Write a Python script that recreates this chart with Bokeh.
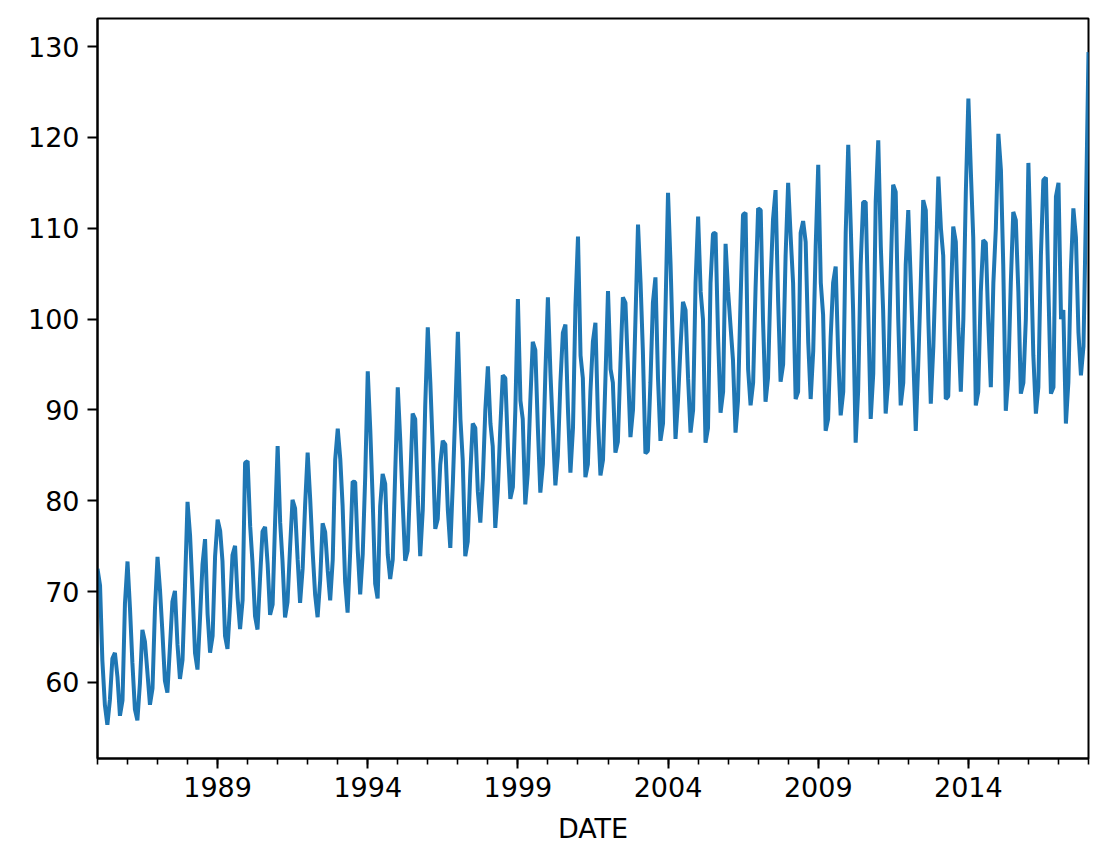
import pandas as pd
from bokeh.plotting import figure
from bokeh.models import Range1d, FixedTicker, DatetimeTickFormatter, ColumnDataSource
from bokeh.embed import file_html
from bokeh.resources import INLINE

# Monthly series, 1985-01 .. 2018-01
start_month = "1985-01-01"
values = [
    # 1985
    72.51, 70.67, 62.45, 57.47, 55.32, 58.09, 62.62, 63.25, 60.58, 56.32, 58.00, 68.71,
    # 1986
    73.31, 67.99, 62.22, 57.03, 55.81, 59.90, 65.77, 64.48, 61.00, 57.53, 59.34, 68.14,
    # 1987
    73.82, 70.06, 65.61, 60.16, 58.87, 63.89, 68.87, 70.07, 64.12, 60.38, 62.46, 70.58,
    # 1988
    79.87, 76.16, 70.29, 63.24, 61.41, 67.11, 72.98, 75.77, 67.52, 63.28, 65.11, 73.86,
    # 1989
    77.92, 76.68, 73.35, 65.11, 63.69, 68.47, 74.03, 75.04, 69.31, 65.87, 69.07, 84.19,
    # 1990
    84.36, 77.17, 73.20, 67.28, 65.82, 71.47, 76.61, 77.11, 73.06, 67.44, 68.57, 77.68,
    # 1991
    86.02, 77.56, 73.37, 67.15, 68.82, 74.84, 80.09, 79.16, 73.57, 68.75, 72.52, 79.49,
    # 1992
    85.29, 80.16, 74.53, 69.64, 67.18, 71.21, 77.51, 76.54, 72.35, 69.03, 73.50, 84.52,
    # 1993
    87.95, 84.56, 79.47, 71.06, 67.68, 74.33, 82.10, 82.06, 74.60, 69.68, 74.16, 82.62,
    # 1994
    94.25, 87.72, 80.38, 70.88, 69.25, 79.40, 82.95, 81.88, 74.08, 71.39, 73.53, 83.14,
    # 1995
    92.5, 86.5, 80.0, 73.4, 74.5, 82.0, 89.6, 89.0, 80.5, 73.9, 79.0, 90.5,
    # 1996
    99.1, 93.0, 86.0, 76.9, 78.0, 84.0, 86.6, 86.2, 79.0, 74.8, 82.0, 90.0,
    # 1997
    98.6, 89.0, 84.5, 73.9, 75.5, 83.0, 88.5, 88.0, 81.0, 77.6, 82.5, 90.0,
    # 1998
    94.8, 88.5, 86.0, 77.0, 81.0, 88.0, 93.8, 93.5, 86.0, 80.2, 81.5, 90.0,
    # 1999
    102.2, 91.0, 89.0, 79.6, 83.0, 91.0, 97.5, 96.6, 88.0, 80.9, 84.0, 94.0,
    # 2000
    102.4, 94.0, 88.0, 81.7, 85.0, 93.0, 98.5, 99.4, 90.0, 83.1, 88.0, 101.5,
    # 2001
    109.1, 96.0, 93.5, 82.6, 84.0, 92.0, 97.5, 99.6, 89.0, 82.8, 84.5, 93.5,
    # 2002
    103.1, 94.5, 93.0, 85.3, 86.5, 95.0, 102.4, 101.8, 94.5, 87.0, 90.0, 100.0,
    # 2003
    110.4, 104.0, 96.5, 85.2, 85.5, 93.0, 101.8, 104.6, 93.5, 86.6, 88.5, 101.0,
    # 2004
    113.9, 106.0, 96.5, 86.8, 91.0, 97.0, 101.9, 101.0, 93.5, 87.5, 90.0, 104.0,
    # 2005
    111.3, 103.0, 100.0, 86.4, 88.0, 104.0, 109.4, 109.5, 98.0, 89.7, 92.0, 108.3,
    # 2006
    103.0, 99.0, 95.5, 87.5, 91.0, 102.0, 111.5, 111.7, 94.5, 90.5, 93.0, 103.5,
    # 2007
    112.2, 112.0, 100.0, 90.9, 93.5, 104.0, 111.0, 114.2, 102.0, 93.1, 95.0, 107.0,
    # 2008
    115.0, 109.0, 104.0, 91.2, 92.0, 109.5, 110.8, 108.5, 97.5, 91.2, 96.5, 108.0,
    # 2009
    117.0, 104.0, 100.5, 87.7, 89.0, 98.0, 104.0, 105.8, 96.0, 89.4, 92.0, 109.5,
    # 2010
    119.2, 110.0, 101.0, 86.4, 92.0, 106.0, 112.9, 112.9, 101.0, 89.0, 94.0, 113.0,
    # 2011
    119.7, 108.0, 101.0, 89.6, 93.0, 105.0, 114.8, 114.0, 100.0, 90.5, 93.0, 106.0,
    # 2012
    112.0, 104.0, 96.0, 87.7, 95.0, 104.0, 113.1, 112.0, 100.0, 90.7, 97.0, 106.0,
    # 2013
    115.7, 110.0, 107.0, 91.2, 91.5, 102.0, 110.2, 108.5, 99.0, 92.0, 100.0, 114.0,
    # 2014
    124.3, 116.0, 109.0, 90.5, 92.0, 103.0, 108.7, 108.4, 99.5, 92.5, 104.0, 110.0,
    # 2015
    120.4, 116.4, 106.0, 89.9, 93.5, 104.0, 111.8, 110.9, 103.0, 91.8, 93.0, 100.0,
    # 2016
    117.2, 107.0, 96.0, 89.6, 92.5, 107.0, 115.3, 115.6, 103.0, 91.8, 92.5, 113.5,
    # 2017
    115.0, 100.0, 101.0, 88.5, 93.0, 105.5, 112.2, 109.0, 98.5, 93.8, 97.0, 112.0,
    # 2018
    129.4,
]

major_years = [1989, 1994, 1999, 2004, 2009, 2014]
minor_years = list(range(1985, 2019))
y_ticks = [60, 70, 80, 90, 100, 110, 120, 130]
x_label = "DATE"

dates = pd.date_range(start=start_month, periods=len(values), freq="MS")
source = ColumnDataSource(data=dict(date=dates, value=values))

ymin, ymax = min(values), max(values)
pad = 0.05 * (ymax - ymin)


def ms(year):
    return pd.Timestamp(f"{year}-01-01").value / 1e6


FONT = "DejaVu Sans"
FS = "27px"

p = figure(
    width=1108, height=865,
    x_axis_type="datetime",
    x_range=Range1d(dates[0], dates[-1]),
    y_range=Range1d(ymin - pad, ymax + pad),
    output_backend="svg", toolbar_location=None,
    min_border_left=97, min_border_top=18, min_border_right=20, min_border_bottom=107,
    background_fill_color="white", border_fill_color="white",
)

p.line("date", "value", source=source, line_color="#1f77b4", line_width=4.0)

p.grid.visible = False
p.outline_line_color = "black"
p.outline_line_width = 2.0

p.xaxis.ticker = FixedTicker(ticks=[ms(y) for y in major_years],
                             minor_ticks=[ms(y) for y in minor_years])
p.xaxis.formatter = DatetimeTickFormatter(years="%Y", months="%Y", days="%Y",
                                          hours="%Y", hourmin="%Y", minutes="%Y")
p.yaxis.ticker = FixedTicker(ticks=y_ticks)
p.yaxis.minor_tick_line_color = None
p.xaxis.axis_label = x_label

for ax in (p.xaxis, p.yaxis):
    ax.axis_line_color = "black"
    ax.axis_line_width = 2.0
    ax.major_tick_line_color = "black"
    ax.major_tick_line_width = 2.0
    ax.major_tick_in = 0
    ax.major_tick_out = 10
    ax.minor_tick_in = 0
    ax.minor_tick_out = 6
    ax.minor_tick_line_width = 1.6
    ax.major_label_text_font = FONT
    ax.major_label_text_font_size = FS
    ax.major_label_text_color = "black"
    ax.major_label_standoff = 8
    ax.axis_label_text_font = FONT
    ax.axis_label_text_font_size = FS
    ax.axis_label_text_font_style = "normal"
    ax.axis_label_text_color = "black"
    ax.axis_label_standoff = 13

open("out.html", "w").write(file_html(p, INLINE))
